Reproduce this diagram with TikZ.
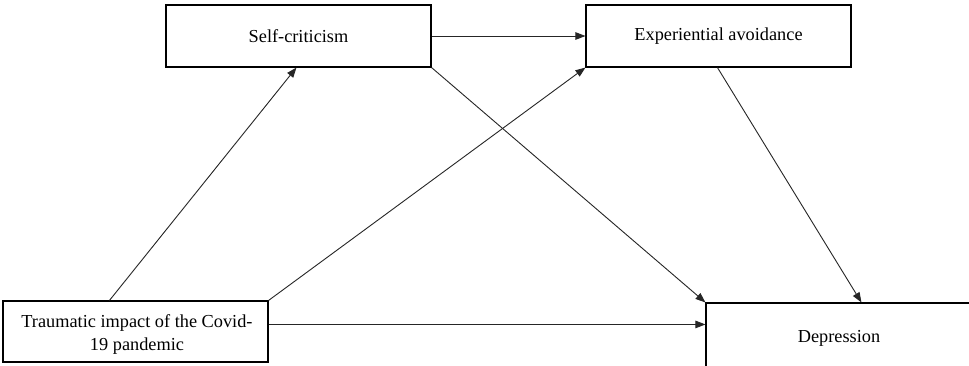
\documentclass[tikz,border=0pt]{standalone}
\usepackage{fontspec}
\setmainfont{Liberation Serif}
\usetikzlibrary{arrows.meta,calc}
\begin{document}
\begin{tikzpicture}[x=1pt,y=-1pt,
  box/.style={draw=black,line width=1.1pt,fill=white,inner sep=0pt,align=center,
    font=\fontsize{18.3}{23}\selectfont},
  txt/.style={inner sep=0pt,align=center,font=\fontsize{18.3}{23}\selectfont},
  conn/.style={draw=black!85,line width=0.9pt,-{Triangle[length=10pt,width=7.5pt]}}]
\useasboundingbox (0,0) rectangle (969,365);
\clip (0,0) rectangle (969,365);
\fill[white] (0,0) rectangle (969,365);
\node[box,minimum width=265pt,minimum height=62pt] (self) at (298.5,36) {Self-criticism};
\node[box,minimum width=265pt,minimum height=62pt] (exp) at (718.5,36) {Experiential avoidance};
\node[box,minimum width=265pt,minimum height=61pt] (trauma) at (135.5,331.5) {};
\node[txt] (traumatxt) at (137,334.5) {Traumatic impact of the Covid-\\19 pandemic};
\node[box,minimum width=266pt,minimum height=70pt] (dep) at (839,338) {Depression};
\coordinate (t1) at ($(trauma.north west)+(107,0)$);
\coordinate (s1) at ($(self.south west)+(131,0)$);
\coordinate (t3) at ($(trauma.north east)+(0,24)$);
\coordinate (e1) at ($(exp.south west)+(132,0)$);
\coordinate (d1) at ($(dep.north west)+(156,0)$);
\draw[conn] (t1) -- (s1);
\draw[conn] (trauma.north east) -- (exp.south west);
\draw[conn] (t3) -- (t3 -| dep.west);
\draw[conn] (self.east) -- (exp.west);
\draw[conn] (self.south east) -- (dep.north west);
\draw[conn] (e1) -- (d1);
\end{tikzpicture}
\end{document}
